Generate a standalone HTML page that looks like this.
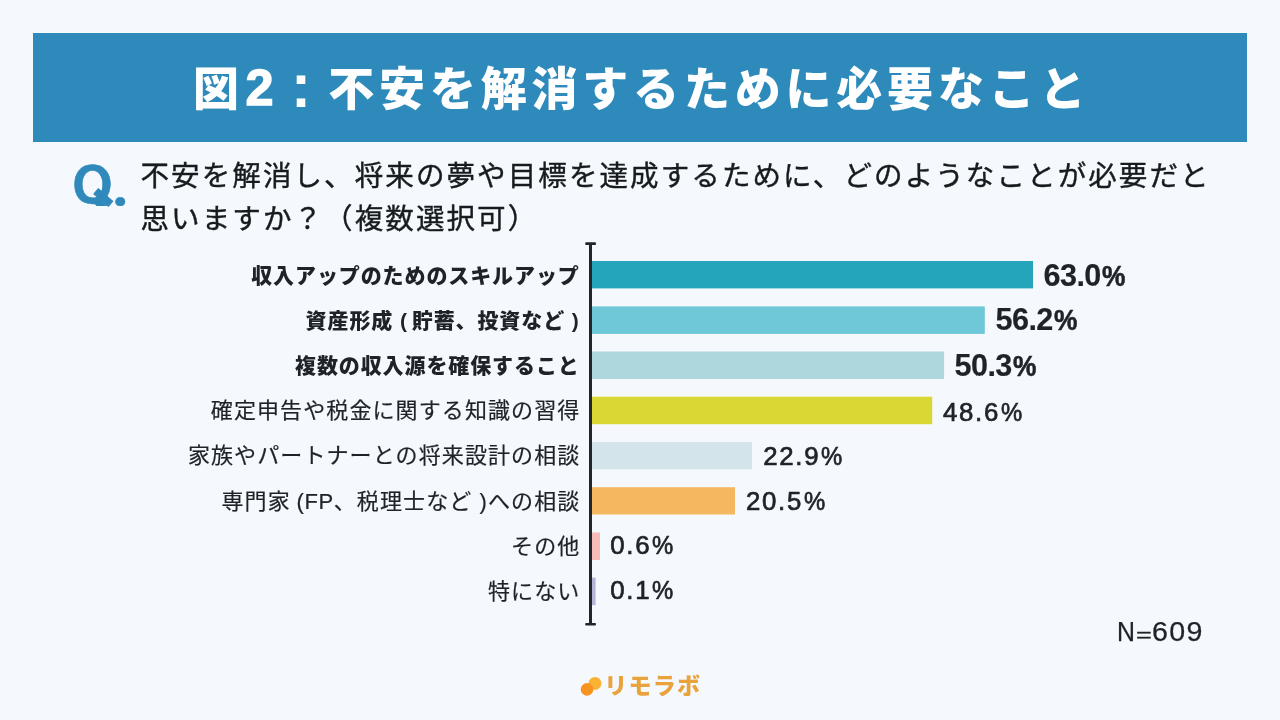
<!DOCTYPE html>
<html lang="ja">
<head>
<meta charset="utf-8">
<title>図2：不安を解消するために必要なこと</title>
<style>
*{margin:0;padding:0;box-sizing:border-box}
html,body{width:1280px;height:720px;overflow:hidden;background:#f5f9fd}
body{position:relative;font-family:"Liberation Sans","Noto Sans CJK JP",sans-serif;color:#1f2327}
.abs{position:absolute;white-space:nowrap;line-height:1}
#banner{left:33px;top:33px;width:1214px;height:109px;background:#2e8abb}
#title{left:193px;top:62px;font-family:"Noto Sans CJK JP","Liberation Sans",sans-serif;font-weight:900;font-size:46px;letter-spacing:4.8px;color:#fff}
#title .n{font-family:"Liberation Sans",sans-serif;font-weight:700;font-size:50.5px;margin-left:1.6px;margin-right:-0.8px;-webkit-text-stroke:1.3px #fff}
#title .c{font-family:"WenQuanYi Zen Hei","Noto Sans CJK JP",sans-serif;font-weight:700;font-size:58px;-webkit-text-stroke:2px #fff;display:inline-block;width:50.8px;height:46px;line-height:46px;vertical-align:top;text-align:center;letter-spacing:0;position:relative;top:1.6px;left:-5.6px}
#q{left:71.5px;top:162.3px;height:44.2px;overflow:hidden;font-family:"NanumGothic","Liberation Sans",sans-serif;font-weight:800;font-size:47.5px;color:#2f8abb;letter-spacing:-1px;-webkit-text-stroke:0.6px #2f8abb;transform:scaleX(1.1);transform-origin:0 0}
.qt{left:140.5px;font-family:"Noto Sans CJK JP","Liberation Sans",sans-serif;font-size:28.5px;letter-spacing:2.1px;color:#181b1e;-webkit-text-stroke:0.4px #181b1e}
#q1{top:159.5px}
#q2{top:202.8px}
#chart{left:0;top:0}
.lb{right:700.3px;text-align:right;font-family:"Liberation Sans","Noto Sans CJK JP",sans-serif}
.lb.b{font-weight:900;font-size:21px;letter-spacing:0.9px}
.lb.r{right:699.6px;font-weight:400;font-size:22px;letter-spacing:1.1px;-webkit-text-stroke:0.2px #1f2327}
.v{font-family:"Liberation Sans",sans-serif}
.v i{font-style:normal;display:inline-block;transform-origin:0 50%}
.v.b{font-weight:700;font-size:30.6px;letter-spacing:-0.6px;-webkit-text-stroke:0.15px #1f2327}
.v.b i{transform:scale(0.86,0.97);margin-left:1.6px;-webkit-text-stroke:0.6px #1f2327}
.v.r{font-weight:400;font-size:25.8px;letter-spacing:1.7px;-webkit-text-stroke:0.7px #1f2327}
.v.r i{transform:scaleX(0.925);margin-left:1.2px}
#n{left:1116.7px;top:618.6px;font-size:27px;letter-spacing:0;-webkit-text-stroke:0.25px #1f2327}
#n span{display:inline-block}
#n .nn{transform:scaleX(0.92);transform-origin:0 50%;margin-right:-0.3px}
#n .eq{transform:scaleY(0.66);transform-origin:50% 60%;position:relative;top:2.2px;-webkit-text-stroke:0.5px #1f2327}
#n .dg{letter-spacing:1.2px;transform:scaleX(1.06);transform-origin:0 50%;margin-left:0.4px}
#logo{left:604.3px;top:672.9px;font-family:"Noto Sans CJK JP",sans-serif;font-weight:900;font-size:23px;letter-spacing:1.2px;color:#e8a33d}
</style>
</head>
<body>
<div class="abs" id="banner"></div>
<div class="abs" id="title">図<span class="n">2</span><span class="c">：</span>不安を解消するために必要なこと</div>

<div class="abs" id="q">Q.</div>
<div class="abs qt" id="q1">不安を解消し、将来の夢や目標を達成するために、どのようなことが必要だと</div>
<div class="abs qt" id="q2">思いますか？（複数選択可）</div>

<svg class="abs" id="chart" width="1280" height="720" viewBox="0 0 1280 720">
  <rect x="592" y="261" width="441" height="27.4" fill="#25a5bc"/>
  <rect x="592" y="306.4" width="392.8" height="27.5" fill="#6fc8d8"/>
  <rect x="592" y="351.5" width="352.1" height="27.5" fill="#aed6dd"/>
  <rect x="592" y="396.7" width="340.2" height="27.5" fill="#dad734"/>
  <rect x="592" y="442" width="160" height="27.3" fill="#d3e5ea"/>
  <rect x="592" y="487.2" width="143" height="27.3" fill="#f5b75f"/>
  <rect x="592" y="532.5" width="8" height="27.5" fill="#f6bcb5"/>
  <rect x="592" y="577.6" width="3.6" height="27.5" fill="#b7b4da"/>
  <line x1="98.6" y1="193.5" x2="108" y2="201.6" stroke="#2f8abb" stroke-width="7.8" stroke-linecap="square"/>
  <rect x="589" y="243" width="3" height="382" fill="#1f262c"/>
  <rect x="585.2" y="242.2" width="10.8" height="2.8" rx="1" fill="#1f262c"/>
  <rect x="585.2" y="623" width="10.8" height="2.6" rx="1" fill="#1f262c"/>
</svg>

<div class="abs lb b" style="top:264.6px">収入アップのためのスキルアップ</div>
<div class="abs lb b" style="top:310px">資産形成 (<span style="letter-spacing:-1.9px"> </span>貯蓄、投資など )</div>
<div class="abs lb b" style="top:355px">複数の収入源を確保すること</div>
<div class="abs lb r" style="top:400px">確定申告や税金に関する知識の習得</div>
<div class="abs lb r" style="top:445px">家族やパートナーとの将来設計の相談</div>
<div class="abs lb r" style="top:490.5px">専門家<span style="letter-spacing:-0.4px"> </span><span style="letter-spacing:0.6px">(FP</span>、税理士など )への相談</div>
<div class="abs lb r" style="top:535.5px">その他</div>
<div class="abs lb r" style="top:580.5px">特にない</div>

<div class="abs v b" style="left:1043.6px;top:260.3px">63.0<i>%</i></div>
<div class="abs v b" style="left:995.6px;top:303.9px">56.2<i>%</i></div>
<div class="abs v b" style="left:954.6px;top:349.8px">50.3<i>%</i></div>
<div class="abs v r" style="left:943px;top:399.9px">48.6<i>%</i></div>
<div class="abs v r" style="left:763.2px;top:443.8px">22.9<i>%</i></div>
<div class="abs v r" style="left:746px;top:488.5px">20.5<i>%</i></div>
<div class="abs v r" style="left:610.3px;top:533.4px">0.6<i>%</i></div>
<div class="abs v r" style="left:610.3px;top:577.8px">0.1<i>%</i></div>

<div class="abs" id="n"><span class="nn">N</span><span class="eq">=</span><span class="dg">609</span></div>

<svg class="abs" style="left:578px;top:674px" width="28" height="26" viewBox="0 0 28 26">
  <circle cx="17" cy="9.4" r="6.4" fill="#f9b233"/>
  <circle cx="9" cy="15.4" r="6.3" fill="#f7931e"/>
</svg>
<div class="abs" id="logo">リモラボ</div>
</body>
</html>
